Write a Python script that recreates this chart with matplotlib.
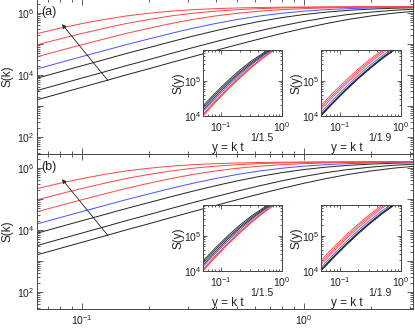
import matplotlib
matplotlib.use("Agg")
import matplotlib.pyplot as plt
from matplotlib.ticker import FixedLocator, LogLocator, FuncFormatter, NullFormatter
import numpy as np

plt.rcParams['font.family'] = ['Liberation Sans', 'DejaVu Sans']
plt.rcParams['mathtext.fontset'] = 'custom'
plt.rcParams['mathtext.rm'] = 'Liberation Sans'
plt.rcParams['mathtext.it'] = 'Liberation Sans:italic'
plt.rcParams['mathtext.default'] = 'regular'

# ---- main panel data: S(k) for successive times ----
k = [0.0631, 0.0794, 0.1, 0.126, 0.158, 0.2, 0.251, 0.316, 0.398, 0.501,
     0.631, 0.794, 1.0, 1.26, 1.58, 2.0, 2.51, 3.16]
S1 = [1584, 2507, 3972, 6285, 9936, 15690, 24730, 38840, 60670, 94060,
      144100, 216800, 318200, 451200, 613100, 792500, 971600, 1134000]
S2 = [3156, 4995, 7904, 12490, 19710, 31000, 48590, 75660, 116600, 177200,
      263600, 380800, 529100, 701800, 883400, 1056000, 1204000, 1321000]
S3 = [7904, 12490, 19710, 31000, 48590, 75660, 116600, 177200, 263600, 380800,
      529100, 701800, 883400, 1056000, 1204000, 1321000, 1408000, 1468000]
S4 = [15690, 24730, 38840, 60670, 94060, 144100, 216800, 318200, 451200, 613100,
      792500, 971600, 1134000, 1267000, 1368000, 1441000, 1491000, 1524000]
S5 = [38840, 60670, 94060, 144100, 216800, 318200, 451200, 613100, 792500, 971600,
      1134000, 1267000, 1368000, 1441000, 1491000, 1524000, 1546000, 1560000]
S6 = [94060, 144100, 216800, 318200, 451200, 613100, 792500, 971600, 1134000, 1267000,
      1368000, 1441000, 1491000, 1524000, 1546000, 1560000, 1569000, 1575000]
S7 = [216800, 318200, 451200, 613100, 792500, 971600, 1134000, 1267000, 1368000, 1441000,
      1491000, 1524000, 1546000, 1560000, 1569000, 1575000, 1578000, 1581000]
main_curves = [S1, S2, S3, S4, S5, S6, S7]
curve_colors = ['#222222', '#222222', '#222222', '#4455ff', '#ff4444', '#ff4444', '#ff4444']

# ---- inset data: S(y) vs scaled y ----
y_in = [0.05, 0.0794, 0.126, 0.2, 0.316, 0.501, 0.794, 1.0]
in1 = [
    [19500, 44700, 97700, 199500, 371500, 631000, 977000, 1175000],
    [17000, 39800, 87100, 177800, 338800, 588800, 933000, 1148000],
    [14800, 34700, 77600, 162200, 309000, 549500, 912000, 1122000],
    [13200, 30900, 69200, 144500, 288400, 524800, 871000, 1096000],
    [11200, 26900, 60300, 128800, 257000, 478600, 831800, 1072000],
    [10500, 25100, 57500, 123000, 251200, 467700, 812800, 1047000],
    [10000, 24000, 55000, 117500, 239900, 457100, 812800, 1047000],
]
in2 = [
    [10000, 23400, 52500, 112200, 223900, 426600, 758600, 977200],
    [10500, 24500, 55000, 117500, 234400, 446700, 794300, 1023000],
    [11000, 25700, 57500, 123000, 245500, 467700, 831800, 1072000],
    [12600, 29500, 66100, 141300, 281800, 524800, 912000, 1175000],
    [15100, 35500, 79400, 166000, 331100, 616600, 1047000, 1318000],
    [17400, 40700, 89100, 190500, 371500, 691800, 1148000, 1445000],
    [20000, 46800, 102300, 213800, 416900, 758600, 1259000, 1585000],
]
inset_exps = ['1/1.5', '1/1.9']
panel_labels = ['(a)', '(b)']

W, H = 415, 328
fig = plt.figure(figsize=(W / 100, H / 100), dpi=100)

def rect(x0, y0, x1, y1):
    return [x0 / W, 1 - y1 / H, (x1 - x0) / W, (y1 - y0) / H]

def pow_fmt(show):
    def f(v, pos):
        e = int(round(np.log10(v)))
        if e in show:
            return '$10^{%d}$' % e
        return ''
    return FuncFormatter(f)

spine_c = '#444444'

def style(ax, fs, major_len, minor_len):
    ax.tick_params(which='both', direction='in', top=True, right=True,
                   colors=spine_c, labelcolor='#222222', labelsize=fs, width=0.6)
    ax.tick_params(which='major', length=major_len)
    ax.tick_params(which='minor', length=minor_len)
    for s in ax.spines.values():
        s.set_color(spine_c)
        s.set_linewidth(0.7)

tops = [-1, 154]
for p in range(2):
    t = tops[p]
    ax = fig.add_axes(rect(37, t, 413, t + 155))
    for S, c in zip(main_curves, curve_colors):
        ax.plot(k, S, color=c, lw=0.7)
    ax.set_xscale('log')
    ax.set_yscale('log')
    ax.set_xlim(0.0627, 3.1)
    ax.set_ylim(28, 2.8e6)
    ax.yaxis.set_major_locator(FixedLocator([1e2, 1e3, 1e4, 1e5, 1e6]))
    ax.yaxis.set_major_formatter(pow_fmt([2, 4, 6]))
    ax.yaxis.set_minor_locator(LogLocator(base=10, subs=np.arange(2, 10), numticks=20))
    ax.yaxis.set_minor_formatter(NullFormatter())
    ax.xaxis.set_major_locator(FixedLocator([0.1, 1.0]))
    ax.xaxis.set_major_formatter(pow_fmt([-1, 0]) if p == 1 else NullFormatter())
    ax.xaxis.set_minor_locator(LogLocator(base=10, subs=np.arange(2, 10), numticks=20))
    ax.xaxis.set_minor_formatter(NullFormatter())
    style(ax, 7.5, 4, 2)
    ax.tick_params(axis='x', pad=3)
    ax.tick_params(axis='y', pad=2)
    ax.set_ylabel('S(k)', fontsize=8.5, labelpad=2, color='#222222')
    ax.text(0.012, 0.955, panel_labels[p], transform=ax.transAxes, fontsize=9,
            va='top', ha='left', color='#222222')
    ax.annotate('', xy=(0.0813, 4.3e5), xytext=(0.131, 6500),
                arrowprops=dict(arrowstyle='-|>', lw=0.6, color='#222222',
                                mutation_scale=6, shrinkA=0, shrinkB=0))

    for j, (data, x0, x1) in enumerate([(in1, 203, 282), (in2, 321, 401)]):
        ia = fig.add_axes(rect(x0, t + 51, x1, t + 117))
        for S, c in zip(data, curve_colors):
            ia.plot(y_in, S, color=c, lw=0.6)
        ia.set_xscale('log')
        ia.set_yscale('log')
        ia.set_xlim(0.05, 1.0)
        ia.set_ylim(1e4, 7.5e5)
        ia.xaxis.set_major_locator(FixedLocator([0.1, 1.0]))
        ia.xaxis.set_major_formatter(pow_fmt([-1, 0]))
        ia.xaxis.set_minor_locator(LogLocator(base=10, subs=np.arange(2, 10), numticks=20))
        ia.xaxis.set_minor_formatter(NullFormatter())
        ia.yaxis.set_major_locator(FixedLocator([1e4, 1e5]))
        ia.yaxis.set_major_formatter(pow_fmt([4, 5]))
        ia.yaxis.set_minor_locator(LogLocator(base=10, subs=np.arange(2, 10), numticks=20))
        ia.yaxis.set_minor_formatter(NullFormatter())
        style(ia, 7.5, 3, 1.5)
        ia.tick_params(axis='y', pad=1)
        ia.tick_params(axis='x', pad=3)
        ia.set_ylabel('S(y)', fontsize=8.5, labelpad=0, color='#222222')
        ia.text(0.32, -0.48, 'y = k t', transform=ia.transAxes, fontsize=8.5,
                ha='center', va='center', color='#222222')
        ia.text(0.74, -0.33, inset_exps[j], transform=ia.transAxes, fontsize=7.5,
                ha='center', va='center', color='#222222')

fig.savefig('out.png', dpi=100)
